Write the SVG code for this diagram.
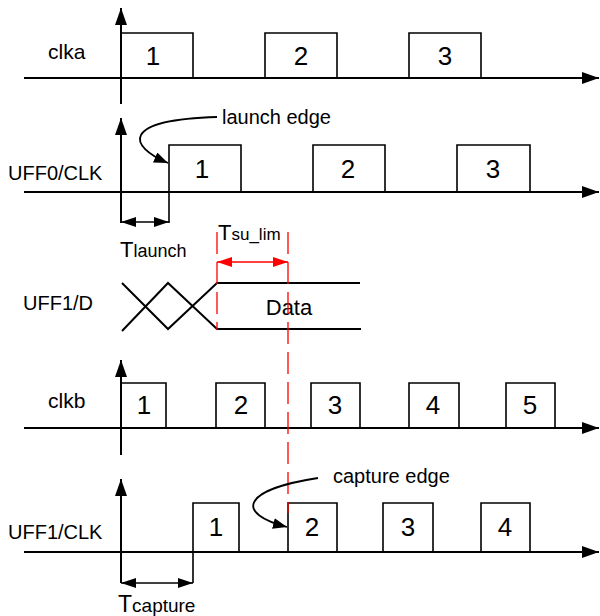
<svg xmlns="http://www.w3.org/2000/svg" width="600" height="616" viewBox="0 0 600 616">
<style>
text{font-family:"Liberation Sans",Arial,sans-serif;fill:#000}
.lbl{font-size:21px}
.sig{font-size:20px}
.num{font-size:26px;text-anchor:middle}
.note{font-size:20px}
.base{stroke:#000;stroke-width:2;fill:none}
.axis{stroke:#000;stroke-width:2;fill:none;marker-end:url(#ah)}
.pulse{stroke:#000;stroke-width:1.6;fill:none}
.dim{stroke:#000;stroke-width:1.6;fill:none;marker-start:url(#dh);marker-end:url(#dh)}
.red{stroke:#f00;stroke-width:1.3;fill:none;stroke-dasharray:22 8}
.reddim{stroke:#f00;stroke-width:1.5;fill:none;marker-start:url(#rh);marker-end:url(#rh)}
.curve{stroke:#000;stroke-width:1.8;fill:none;marker-end:url(#ch)}
.wave{stroke:#000;stroke-width:2;fill:none}
</style>
<defs>
<marker id="ah" markerUnits="userSpaceOnUse" markerWidth="18" markerHeight="12" refX="17" refY="6" orient="auto"><path d="M0,0 L17,6 L0,12 z" fill="#000"/></marker>
<marker id="dh" markerUnits="userSpaceOnUse" markerWidth="16" markerHeight="10" refX="15" refY="5" orient="auto-start-reverse"><path d="M0,0 L15,5 L0,10 z" fill="#000"/></marker>
<marker id="rh" markerUnits="userSpaceOnUse" markerWidth="16" markerHeight="10" refX="15" refY="5" orient="auto-start-reverse"><path d="M0,0 L15,5 L0,10 z" fill="#f00"/></marker>
<marker id="ch" markerUnits="userSpaceOnUse" markerWidth="15" markerHeight="11" refX="14" refY="5.5" orient="auto"><path d="M0,0 L14,5.5 L0,11 z" fill="#000"/></marker>
</defs>

<g id="clka">
<text class="lbl" x="48" y="59">clka</text>
<line class="base" x1="24" y1="78" x2="599" y2="78" marker-end="url(#ah)"/>
<line class="axis" x1="121" y1="104" x2="121" y2="8"/>
<path class="pulse" d="M121,78 V33 H193 V78 M265,78 V33 H337 V78 M409,78 V33 H481 V78"/>
<text class="num" x="153" y="65">1</text>
<text class="num" x="301" y="65">2</text>
<text class="num" x="445" y="65">3</text>
</g>

<g id="uff0_clk">
<text class="sig" x="8" y="180">UFF0/CLK</text>
<line class="base" x1="24" y1="192" x2="599" y2="192" marker-end="url(#ah)"/>
<line class="axis" x1="121" y1="223" x2="121" y2="118"/>
<path class="pulse" d="M169,223 V145 H241 V192 M313,192 V145 H385 V192 M457,192 V145 H530 V192"/>
<text class="num" x="202" y="178">1</text>
<text class="num" x="348" y="178">2</text>
<text class="num" x="493" y="178">3</text>
</g>

<g id="uff1_d">
<text class="sig" x="23" y="310">UFF1/D</text>
<path class="wave" d="M122,283 L168,329 L217,283 H360 M122,331 L168,283 L217,329 H361"/>
<text x="289" y="315" style="font-size:22px;text-anchor:middle">Data</text>
</g>

<g id="clkb">
<text class="lbl" x="48" y="408">clkb</text>
<line class="base" x1="24" y1="428" x2="599" y2="428" marker-end="url(#ah)"/>
<line class="axis" x1="121" y1="455" x2="121" y2="360"/>
<path class="pulse" d="M121,428 V383 H166 V428 M216,428 V383 H265 V428 M311,428 V383 H360 V428 M409,428 V383 H459 V428 M506,428 V383 H555 V428"/>
<text class="num" x="144" y="414">1</text>
<text class="num" x="241" y="414">2</text>
<text class="num" x="335" y="414">3</text>
<text class="num" x="433" y="414">4</text>
<text class="num" x="530" y="414">5</text>
</g>

<g id="uff1_clk">
<text class="sig" x="8" y="539">UFF1/CLK</text>
<line class="base" x1="24" y1="552" x2="599" y2="552" marker-end="url(#ah)"/>
<line class="axis" x1="121" y1="583" x2="121" y2="479"/>
<path class="pulse" d="M193,583 V503 H239 V552 M288,552 V503 H337 V552 M383,552 V503 H433 V552 M481,552 V503 H530 V552"/>
<text class="num" x="216" y="536">1</text>
<text class="num" x="312" y="536">2</text>
<text class="num" x="408" y="536">3</text>
<text class="num" x="505" y="536">4</text>
</g>

<g id="connectors">
<line class="dim" x1="121" y1="222" x2="169" y2="222"/>
<line class="dim" x1="121" y1="583" x2="193" y2="583"/>
<line class="red" x1="217" y1="232" x2="217" y2="330"/>
<line class="red" x1="288" y1="232" x2="288" y2="513"/>
<line class="reddim" x1="217" y1="262" x2="288" y2="262"/>
<path class="curve" d="M217,117 C120,120 128,146 168,163"/>
<path class="curve" d="M318,478 C240,490 236,514 287,527"/>
</g>

<g id="labels">
<text class="note" x="222" y="124">launch edge</text>
<text class="note" x="333" y="483">capture edge</text>
<text x="120" y="257" style="font-size:22px">T<tspan style="font-size:18px">launch</tspan></text>
<text x="218" y="240" style="font-size:22px">T<tspan style="font-size:17px">su_lim</tspan></text>
<text x="118" y="612" style="font-size:23px">T<tspan style="font-size:19px">capture</tspan></text>
</g>
</svg>
